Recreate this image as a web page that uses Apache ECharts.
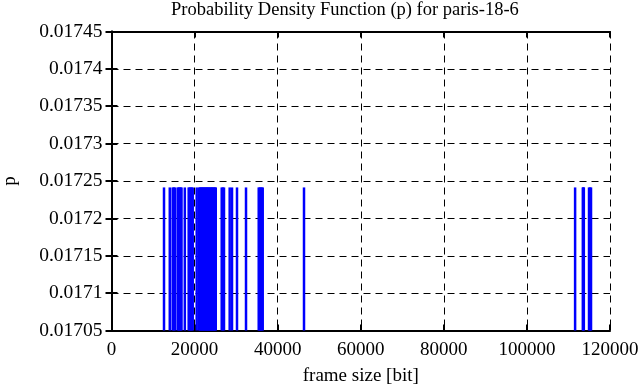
<!DOCTYPE html>
<html>
<head>
<meta charset="utf-8">
<script src="https://cdn.jsdelivr.net/npm/echarts@6/dist/echarts.min.js"></script>
<style>html,body{margin:0;padding:0;background:#fff}#c{width:641px;height:387px}</style>
</head>
<body>
<div id="c"></div>
<script>
// frame sizes [bit] (58 distinct values) with their probability density
const frameSizes = [12640, 14030, 14730, 15000, 15290, 15940, 16200, 16420, 16650, 16850, 17650,
  18580, 18820, 19070, 19300, 19550, 20510,
  21100, 21300, 21500, 21710, 21900, 22100, 22300, 22510, 22700, 22920, 23100,
  23300, 23500, 23710, 23900, 24120, 24300, 24510, 24700, 24920, 25100,
  26530, 26800, 27080, 28450, 29010, 30210, 32380, 35440, 35680, 35920, 36150, 36400, 46340,
  111600, 113460, 113580, 113700, 114950, 115200, 115430];
const pValues = frameSizes.map(() => 0.0172414);
const xTicks = [0, 20000, 40000, 60000, 80000, 100000, 120000];
const yTicks = [0.01705, 0.0171, 0.01715, 0.0172, 0.01725, 0.0173, 0.01735, 0.0174, 0.01745];

const FONT = 'Liberation Serif';
const chart = echarts.init(document.getElementById('c'), null, {renderer: 'canvas'});
const axisLine = {show: true, lineStyle: {color: '#000', width: 2}};
const tick = {show: true, inside: true, length: 6, lineStyle: {color: '#000', width: 2}};
const grid = {show: true, lineStyle: {color: '#000', width: 1, type: [7, 5]}};
const xCommon = {type: 'value', min: xTicks[0], max: xTicks[xTicks.length - 1], interval: 20000};
const yCommon = {type: 'value', min: yTicks[0], max: yTicks[yTicks.length - 1], interval: 0.00005};
chart.setOption({
  animation: false,
  textStyle: {fontFamily: FONT},
  title: {
    text: 'Probability Density Function (p) for paris-18-6',
    left: 171, top: 1, padding: 0,
    textStyle: {fontFamily: FONT, fontSize: 18.5, fontWeight: 'normal', color: '#000'}
  },
  grid: {left: 111.5, right: 31, top: 31.5, bottom: 56.5, containLabel: false, outerBoundsMode: 'none'},
  xAxis: [
    Object.assign({}, xCommon, {
      position: 'bottom',
      name: 'frame size [bit]', nameLocation: 'middle', nameGap: 36,
      nameTextStyle: {fontFamily: FONT, fontSize: 19, color: '#000'},
      axisLine, axisTick: tick, splitLine: grid,
      axisLabel: {fontFamily: FONT, fontSize: 19, color: '#000', margin: 10,
        formatter: v => String(v)}
    }),
    Object.assign({}, xCommon, {
      position: 'top', axisLine, axisTick: tick, splitLine: {show: false}, axisLabel: {show: false}
    })
  ],
  yAxis: [
    Object.assign({}, yCommon, {
      position: 'left',
      name: 'p', nameLocation: 'middle', nameGap: 92, nameRotate: 90,
      nameTextStyle: {fontFamily: FONT, fontSize: 19, color: '#000'},
      axisLine, axisTick: tick, splitLine: grid,
      axisLabel: {fontFamily: FONT, fontSize: 19.5, color: '#000', margin: 9,
        formatter: v => String(+v.toFixed(5))}
    }),
    Object.assign({}, yCommon, {
      position: 'right', axisLine, axisTick: tick, splitLine: {show: false}, axisLabel: {show: false}
    })
  ],
  series: [{
    type: 'bar',
    xAxisIndex: 0, yAxisIndex: 0,
    barWidth: 2.5,
    barGap: '-100%',
    clip: true,
    itemStyle: {color: '#0000ff'},
    data: frameSizes.map((x, i) => [x, pValues[i]])
  }]
});
</script>
</body>
</html>
